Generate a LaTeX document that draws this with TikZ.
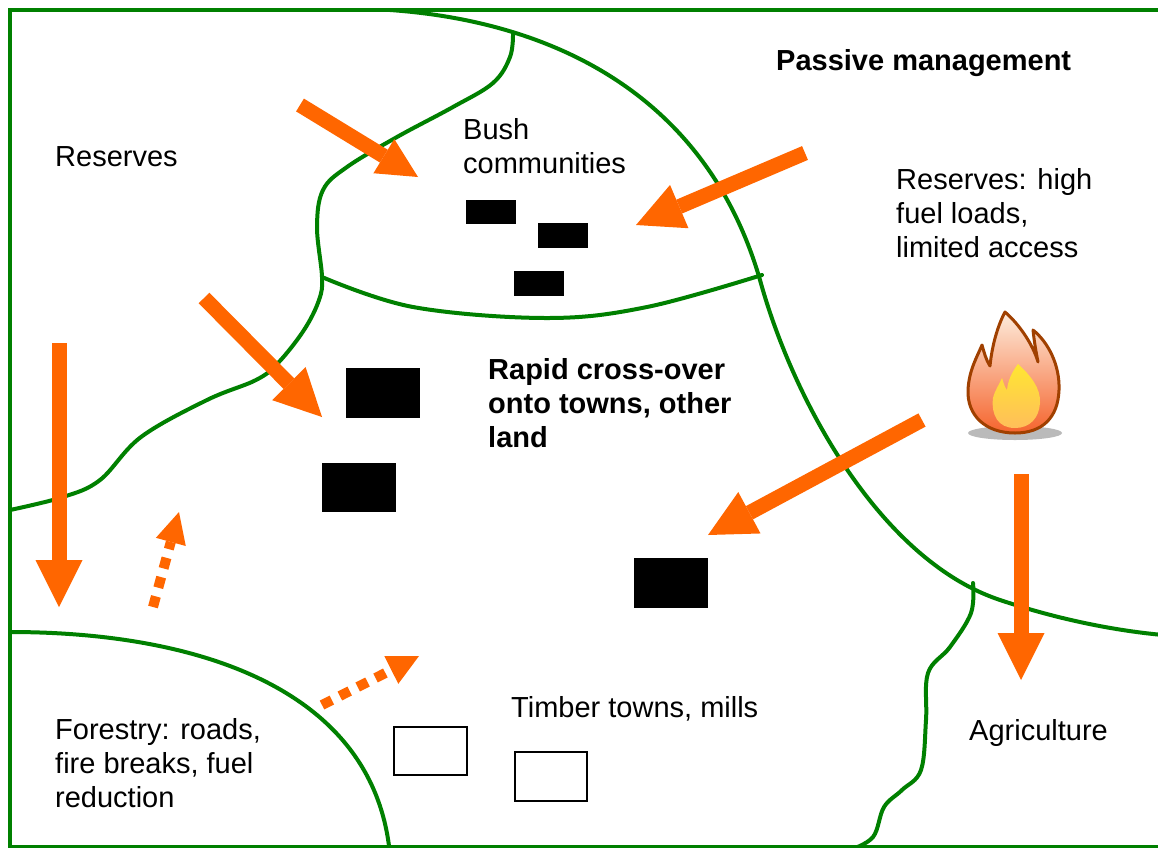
\documentclass[tikz,border=0pt]{standalone}
\usepackage{fontspec}
\setmainfont{Liberation Sans}
\usetikzlibrary{arrows.meta}
\definecolor{grn}{RGB}{0,128,0}
\definecolor{org}{RGB}{255,102,0}
\definecolor{flout}{RGB}{160,64,0}
\definecolor{fltop}{RGB}{253,236,220}
\definecolor{flmid}{RGB}{250,165,70}
\definecolor{flbot}{RGB}{245,100,45}
\definecolor{yltop}{RGB}{255,230,50}
\definecolor{ylbot}{RGB}{255,190,90}
\begin{document}
\begin{tikzpicture}[x=1pt,y=-1pt,
  bound/.style={draw=grn, line width=4pt, line cap=round, line join=round},
  lbl/.style={font=\fontsize{29}{33.8}\selectfont, align=left, inner sep=0pt, anchor=base west},
  blbl/.style={lbl, font=\fontsize{29}{33.8}\selectfont\bfseries},
  bigarrow/.style={draw=org, line width=15pt, -{Triangle[length=47pt,width=47pt,line width=0pt]}},
  smallarrow/.style={draw=org, line width=15pt, -{Triangle[length=40pt,width=40pt,line width=0pt]}},
  dotarrow/.style={draw=org, line width=10pt, dash pattern=on 11pt off 9pt, -{Triangle[length=31pt,width=31pt,line width=0pt]}},
  house/.style={fill=black},
  emptyhouse/.style={draw=black, line width=1.5pt, fill=white}
]
\useasboundingbox (0,0) rectangle (1158,847);
\clip (0,0) rectangle (1158,847);
\fill[white] (0,0) rectangle (1158,847);

% frame
\draw[draw=grn, line width=4.5pt] (10,10) rectangle (1185,847);

% big passive management boundary
\draw[bound] (390,10) .. controls (560,22) and (708,100) .. (760,280)
  .. controls (793,400) and (880,560) .. (1000,600)
  .. controls (1060,620) and (1120,632) .. (1175,636);

% bush community left boundary and reserves boundary
\draw[bound] plot[smooth, tension=0.6] coordinates {(513,33) (510,57) (493,83) (453,107) (397,137) (347,167) (323,190) (317,227) (322,277) (319,300) (304,330) (278,363) (256,380) (207,400) (141,437) (100,480) (63,497) (10,510)};

% bush community bottom boundary
\draw[bound] plot[smooth, tension=0.6] coordinates {(322,277) (413,307) (547,318) (647,307) (762,275)};

% forestry boundary
\draw[bound] (10,632) .. controls (200,632) and (375,690) .. (390,855);

% agriculture boundary
\draw[bound] plot[smooth, tension=0.6] coordinates {(973,583) (971,613) (950,647) (928,673) (926,720) (921,770) (902,790) (884,807) (873,837) (850,850)};

% houses
\fill[house] (466,200) rectangle (516,224);
\fill[house] (538,223) rectangle (588,248);
\fill[house] (514,271) rectangle (564,296);
\fill[house] (346,368) rectangle (420,418);
\fill[house] (322,463) rectangle (396,512);
\fill[house] (634,558) rectangle (708,608);
\draw[emptyhouse] (394,727) rectangle (467,775);
\draw[emptyhouse] (515,752) rectangle (587,801);

% fire icon
\fill[black!27] (1015,433) ellipse [x radius=47, y radius=7];
\shadedraw[draw=flout, line width=3pt, line join=round, top color=fltop, middle color=flmid, bottom color=flbot]
  (1015,433) .. controls (985,433) and (967,415) .. (968,390)
  .. controls (969,370) and (977,357) .. (982,345)
  .. controls (984,352) and (986,360) .. (990,366)
  .. controls (992,345) and (998,325) .. (1005,312)
  .. controls (1020,325) and (1033,345) .. (1038,362)
  .. controls (1036,352) and (1034,340) .. (1033,330)
  .. controls (1048,342) and (1060,365) .. (1059,390)
  .. controls (1058,418) and (1042,433) .. (1015,433) -- cycle;
\shade[top color=yltop, bottom color=ylbot]
  (1015,428) .. controls (998,428) and (991,415) .. (993,398)
  .. controls (995,390) and (999,385) .. (1002,378)
  .. controls (1004,384) and (1005,388) .. (1007,390)
  .. controls (1008,380) and (1012,372) .. (1018,364)
  .. controls (1030,375) and (1041,388) .. (1040,403)
  .. controls (1039,418) and (1030,428) .. (1015,428) -- cycle;

% arrows
\coordinate (a1s) at (300,105);  \coordinate (a1t) at (418,177);
\coordinate (a2s) at (805,153);  \coordinate (a2t) at (636,225);
\coordinate (a3s) at (204,298);  \coordinate (a3t) at (322,417);
\coordinate (a4s) at (59,343);   \coordinate (a4t) at (59,607);
\coordinate (a5s) at (922,420);  \coordinate (a5t) at (708,535);
\coordinate (a6s) at (1021,474); \coordinate (a6t) at (1021,680);
\coordinate (a7s) at (153,607);  \coordinate (a7t) at (179,512);
\coordinate (a8s) at (322,705);  \coordinate (a8t) at (419,656);
\draw[smallarrow] (a1s) -- (a1t);
\draw[bigarrow] (a2s) -- (a2t);
\draw[bigarrow] (a3s) -- (a3t);
\draw[bigarrow] (a4s) -- (a4t);
\draw[bigarrow] (a5s) -- (a5t);
\draw[bigarrow] (a6s) -- (a6t);
\draw[dotarrow] (a7s) -- (a7t);
\draw[dotarrow] (a8s) -- (a8t);

% labels (base anchor of a multi-line node is the baseline of its last line)
\node[blbl] (pm) at (776,70) {Passive management};
\node[lbl] (res) at (55,166) {Reserves};
\node[lbl] (bush) at (463,173) {Bush\\communities};
\node[lbl] (resh) at (896,257) {Reserves: high\\fuel loads,\\limited access};
\node[blbl] (rapid) at (488,447) {Rapid cross-over\\onto towns, other\\land};
\node[lbl] (forestry) at (55,807) {Forestry: roads,\\fire breaks, fuel\\reduction};
\node[lbl] (timber) at (511,717) {Timber towns, mills};
\node[lbl] (agri) at (969,740) {Agriculture};
\end{tikzpicture}
\end{document}
